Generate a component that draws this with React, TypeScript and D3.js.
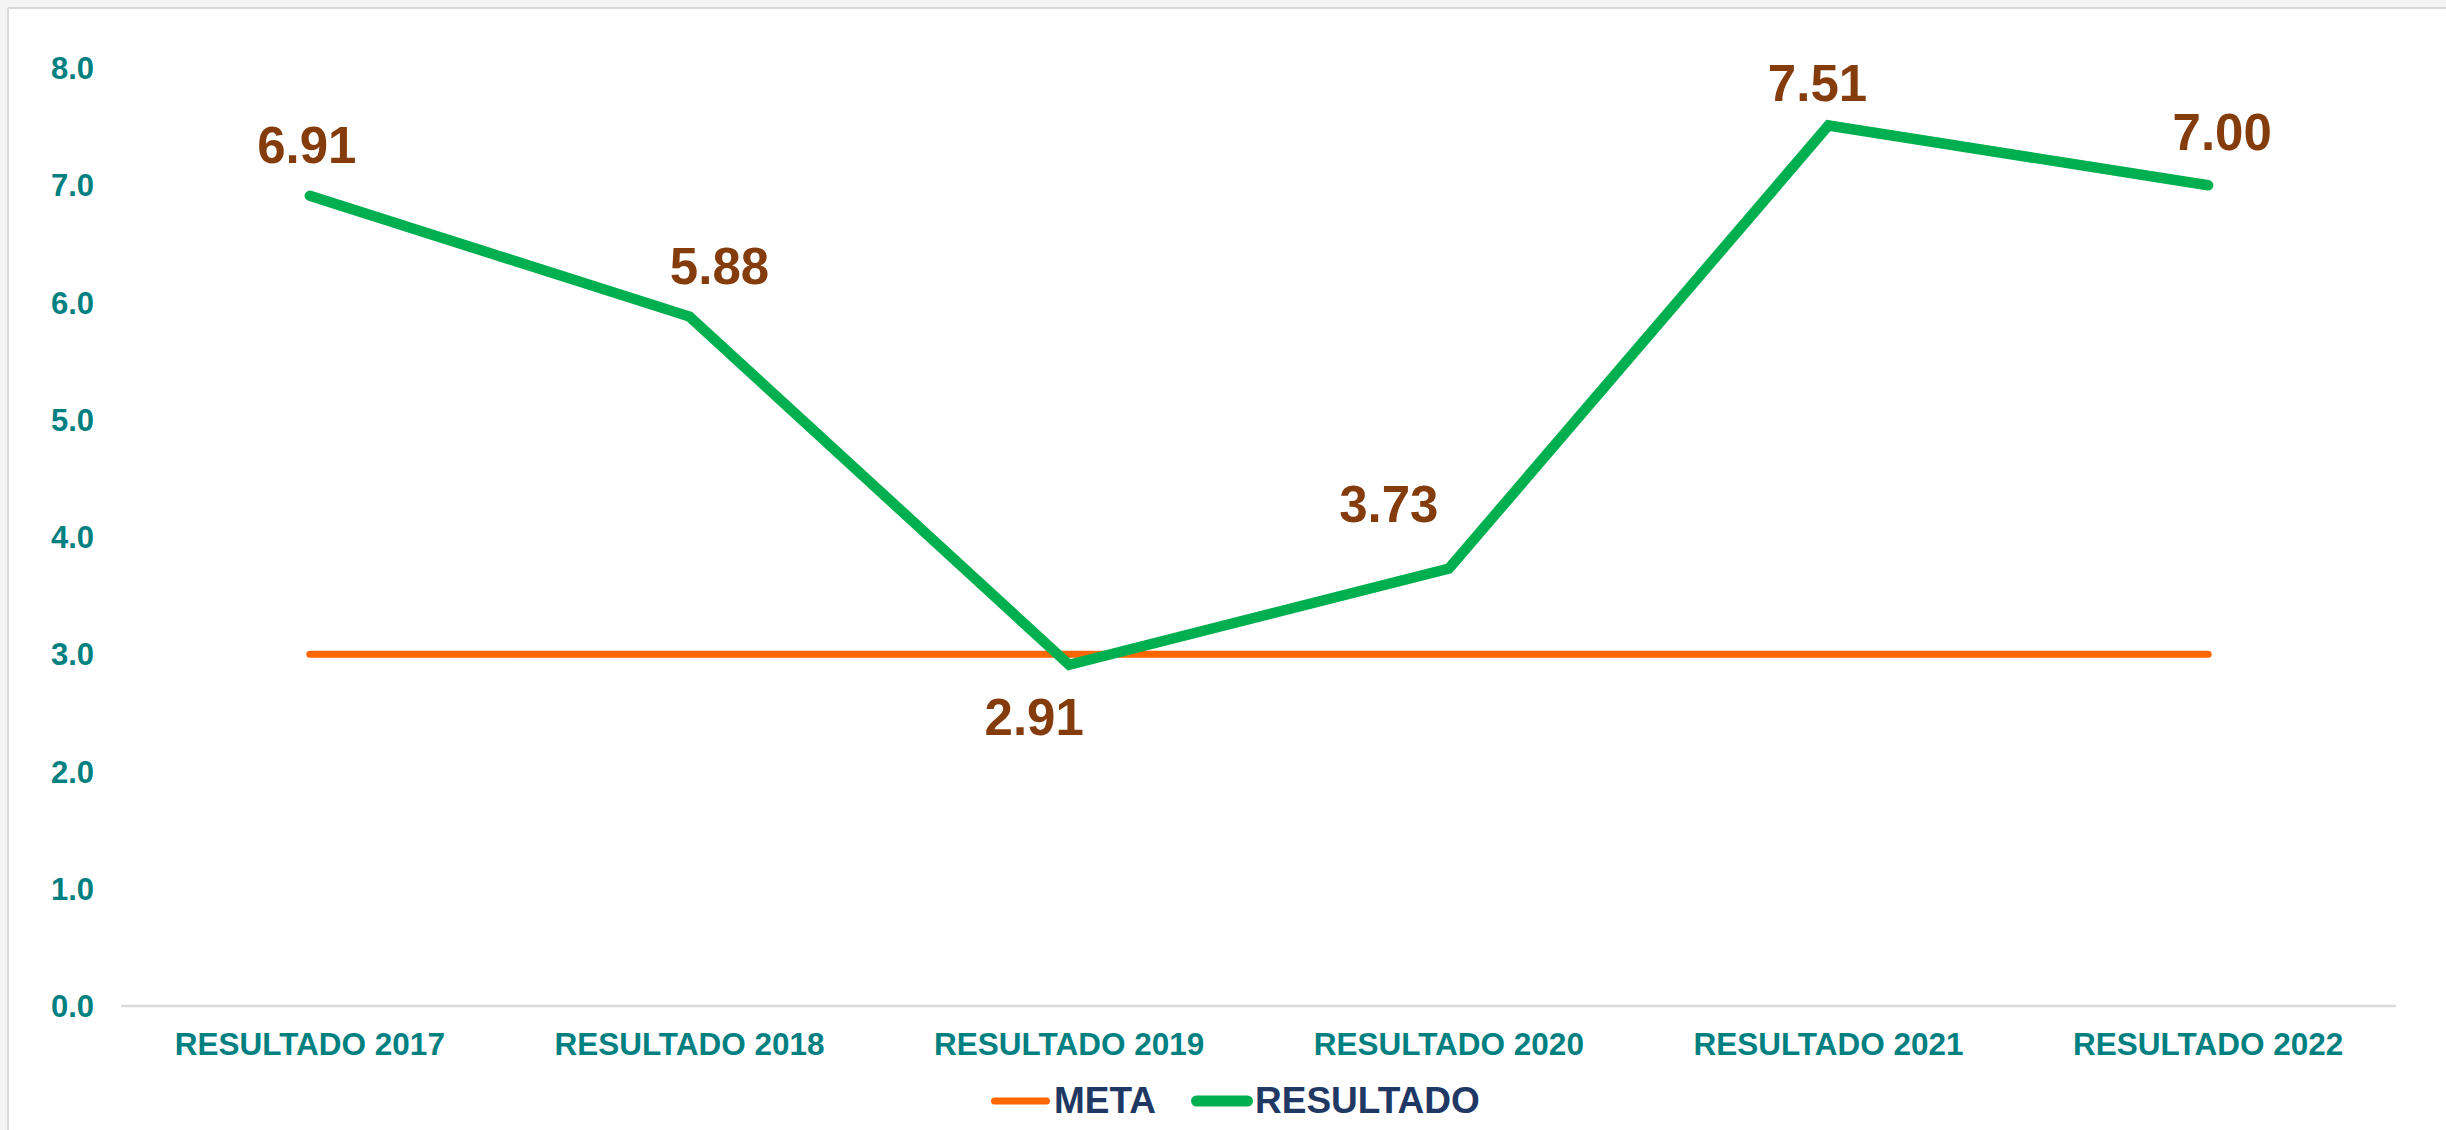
import React, { useEffect, useRef } from "react";
import * as d3 from "d3";

const categories = [
  "RESULTADO 2017",
  "RESULTADO 2018",
  "RESULTADO 2019",
  "RESULTADO 2020",
  "RESULTADO 2021",
  "RESULTADO 2022",
];
const resultado = [6.91, 5.88, 2.91, 3.73, 7.51, 7.0];
const meta = [3, 3, 3, 3, 3, 3];
const yTicks = [0, 1, 2, 3, 4, 5, 6, 7, 8];
const legendItems = ["META", "RESULTADO"];

// layout: manual label nudges (dx, dy of baseline relative to the point)
const labelNudge: [number, number][] = [
  [-3, -33],
  [30, -33],
  [-35, 70],
  [-60, -47],
  [-11, -24],
  [14, -35],
];

const W = 2446;
const H = 1130;
const FONT = "'Liberation Sans', Arial, sans-serif";
const TEAL = "#008080";
const GREEN = "#00B050";
const ORANGE = "#FF6600";
const BROWN = "#843C0C";
const NAVY = "#1F3864";

export default function App() {
  const ref = useRef<SVGSVGElement>(null);

  useEffect(() => {
    document.body.style.margin = "0";
    const svg = d3.select(ref.current);
    svg.selectAll("*").remove();

    const x = d3.scaleBand<string>().domain(categories).range([120, 2398]);
    const y = d3.scaleLinear().domain([0, 8]).range([1006, 68]);
    const cx = (c: string) => (x(c) as number) + x.bandwidth() / 2;

    // background / frame
    svg.append("rect").attr("width", W).attr("height", H).attr("fill", "#f4f4f4");
    svg.append("rect").attr("x", 9).attr("y", 9).attr("width", W - 9).attr("height", H - 9).attr("fill", "#ffffff");
    svg.append("line").attr("x1", 8).attr("x2", W).attr("y1", 8).attr("y2", 8).attr("stroke", "#d9d9d9").attr("stroke-width", 2);
    svg.append("line").attr("x1", 8).attr("x2", 8).attr("y1", 8).attr("y2", H).attr("stroke", "#d9d9d9").attr("stroke-width", 2);

    // y tick labels
    svg
      .append("g")
      .selectAll("text")
      .data(yTicks)
      .join("text")
      .attr("x", 94)
      .attr("y", (d) => y(d))
      .attr("dy", "0.36em")
      .attr("text-anchor", "end")
      .attr("font-family", FONT)
      .attr("font-weight", "bold")
      .attr("font-size", 31)
      .attr("fill", TEAL)
      .text((d) => d3.format(".1f")(d));

    // x axis line
    svg
      .append("line")
      .attr("x1", 121)
      .attr("x2", 2396)
      .attr("y1", y(0))
      .attr("y2", y(0))
      .attr("stroke", "#d9d9d9")
      .attr("stroke-width", 2.5);

    // category labels
    svg
      .append("g")
      .selectAll("text")
      .data(categories)
      .join("text")
      .attr("x", (d) => cx(d))
      .attr("y", 1055)
      .attr("text-anchor", "middle")
      .attr("font-family", FONT)
      .attr("font-weight", "bold")
      .attr("font-size", 31.5)
      .attr("fill", TEAL)
      .text((d) => d);

    const line = d3
      .line<number>()
      .x((_, i) => cx(categories[i]))
      .y((d) => y(d));

    // META
    svg
      .append("path")
      .attr("d", line(meta))
      .attr("fill", "none")
      .attr("stroke", ORANGE)
      .attr("stroke-width", 7)
      .attr("stroke-linecap", "round");

    // RESULTADO
    svg
      .append("path")
      .attr("d", line(resultado))
      .attr("fill", "none")
      .attr("stroke", GREEN)
      .attr("stroke-width", 10.5)
      .attr("stroke-linecap", "round")
      .attr("stroke-linejoin", "miter");

    // data labels
    svg
      .append("g")
      .selectAll("text")
      .data(resultado)
      .join("text")
      .attr("x", (d, i) => cx(categories[i]) + labelNudge[i][0])
      .attr("y", (d, i) => y(d) + labelNudge[i][1])
      .attr("text-anchor", "middle")
      .attr("font-family", FONT)
      .attr("font-weight", "bold")
      .attr("font-size", 51)
      .attr("fill", BROWN)
      .text((d) => d3.format(".2f")(d));

    // legend
    const lg = svg.append("g");
    const legendDefs = [
      { label: legendItems[0], color: ORANGE, w: 7, x0: 991, x1: 1050, tx: 1054 },
      { label: legendItems[1], color: GREEN, w: 11, x0: 1191, x1: 1253, tx: 1255 },
    ];
    legendDefs.forEach((l) => {
      lg.append("line")
        .attr("x1", l.x0 + l.w / 2)
        .attr("x2", l.x1 - l.w / 2)
        .attr("y1", 1101)
        .attr("y2", 1101)
        .attr("stroke", l.color)
        .attr("stroke-width", l.w)
        .attr("stroke-linecap", "round");
      lg.append("text")
        .attr("x", l.tx)
        .attr("y", 1113)
        .attr("font-family", FONT)
        .attr("font-weight", "bold")
        .attr("font-size", 37)
        .attr("fill", NAVY)
        .text(l.label);
    });
  }, []);

  return (
    <svg
      ref={ref}
      width={W}
      height={H}
      style={{ position: "absolute", left: 0, top: 0, display: "block" }}
    />
  );
}
